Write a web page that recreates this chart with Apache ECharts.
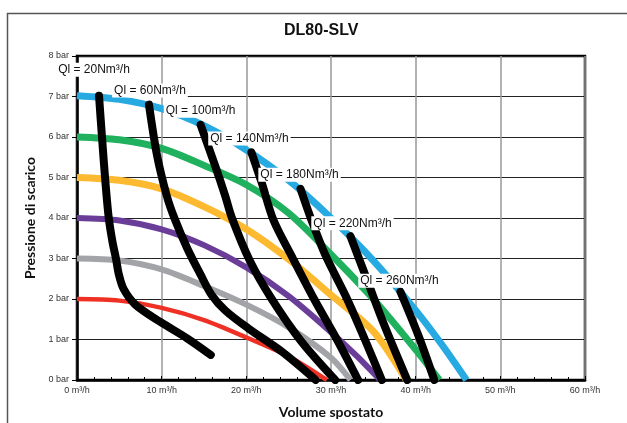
<!DOCTYPE html>
<html>
<head>
<meta charset="utf-8">
<script src="https://cdn.jsdelivr.net/npm/echarts@6/dist/echarts.min.js"></script>
<style>
  html, body { margin: 0; padding: 0; background: #fff; }
  #chart { width: 627px; height: 423px; }
</style>
</head>
<body>
<div id="chart"></div>
<script>
// curve pompa (portata m³/h, pressione bar)
var redCurve    = [[0,2.0],[5,1.96],[10,1.78],[15,1.48],[20,1.05],[25,0.58],[29.5,0]];
var greyCurve   = [[0,3.0],[5,2.95],[10,2.73],[15,2.32],[20,1.86],[25,1.3],[30,0.55],[32.3,0]];
var purpleCurve = [[0,4.0],[5,3.94],[10,3.72],[15,3.33],[20,2.78],[25,2.07],[30,1.18],[33,0.6],[35.8,0]];
var yellowCurve = [[0,5.0],[5,4.93],[10,4.72],[15,4.28],[20,3.72],[25,2.98],[30,2.1],[35,1.2],[38.9,0]];
var greenCurve  = [[0,6.0],[5,5.93],[10,5.72],[15,5.3],[20,4.82],[25,4.12],[30,3.1],[35,2.0],[40,0.75],[42.8,0]];
var blueCurve   = [[0,7.02],[5,6.93],[10,6.7],[15,6.28],[20,5.68],[25,4.93],[30,4.0],[35,2.95],[40,1.72],[43,0.9],[46,0]];

// consumo aria
var ql20  = [[2.6,7.02],[2.95,6.0],[3.35,4.9],[3.75,4.0],[4.2,3.4],[4.6,3.0],[4.95,2.6],[5.5,2.25],[6.9,1.86],[9.8,1.44],[13,1.03],[15.8,0.62]];
var ql60  = [[8.5,6.8],[9.45,5.55],[10.6,4.55],[11.5,4.0],[13,3.26],[14.6,2.6],[15.9,2.1],[17.5,1.72],[20.2,1.28],[24.2,0.7],[28.2,0]];
var ql100 = [[14.6,6.3],[16.3,5.3],[17.5,4.55],[18.3,4.0],[20.4,2.95],[23,2.0],[26.5,0.95],[30.5,0]];
var ql140 = [[20.6,5.62],[21.8,4.88],[23.2,3.95],[25.5,3.0],[28,2.0],[30.7,1.0],[33.2,0]];
var ql180 = [[26.4,4.72],[27.6,4.0],[29.3,3.1],[31.9,2.0],[34,1.0],[36,0]];
var ql220 = [[32.3,3.55],[34.3,2.45],[36.3,1.35],[39,0]];
var ql260 = [[38.2,2.18],[40.3,1.11],[42.2,0]];

var qlNames = ['Ql = 20Nm³/h','Ql = 60Nm³/h','Ql = 100m³/h','Ql = 140Nm³/h','Ql = 180Nm³/h','Ql = 220Nm³/h','Ql = 260Nm³/h'];

var xTicks = [0,10,20,30,40,50,60];
var yTicks = [0,1,2,3,4,5,6,7,8];

var pumpCurves = [
  { data: redCurve,    color: '#ee3124', width: 4.5 },
  { data: greyCurve,   color: '#a2a4a7', width: 6 },
  { data: purpleCurve, color: '#6a3e98', width: 6 },
  { data: yellowCurve, color: '#fdb92f', width: 7 },
  { data: greenCurve,  color: '#20b15f', width: 7 },
  { data: blueCurve,   color: '#27aae1', width: 7 }
];
var airCurves = [ql20, ql60, ql100, ql140, ql180, ql220, ql260];
// spostamento etichette rispetto al primo punto
var labelOffsets = [[-5,-26],[1,-14],[0,-14],[-2,-14],[-1,-14],[2,-13],[-1,-11]];

var series = [];
pumpCurves.forEach(function (c) {
  series.push({
    type: 'line',
    data: c.data,
    smooth: 0.3,
    showSymbol: false,
    silent: true,
    z: 2,
    lineStyle: { color: c.color, width: c.width, cap: 'butt' }
  });
});
airCurves.forEach(function (d, i) {
  series.push({
    type: 'line',
    data: d,
    smooth: 0.3,
    showSymbol: false,
    silent: true,
    z: 3,
    lineStyle: { color: '#000', width: 8, cap: 'round', join: 'round' },
    markPoint: {
      symbol: 'rect',
      symbolSize: 0,
      silent: true,
      z: 6,
      data: [{
        coord: d[0],
        label: {
          show: true,
          position: 'inside',
          offset: labelOffsets[i],
          formatter: qlNames[i],
          color: '#111',
          fontSize: 12,
          fontFamily: 'Liberation Sans, Arial, sans-serif',
          backgroundColor: '#fff',
          padding: [1, 2]
        }
      }]
    }
  });
});

var chart = echarts.init(document.getElementById('chart'), null, { renderer: 'canvas' });
chart.setOption({
  animation: false,
  backgroundColor: '#fff',
  title: {
    text: 'DL80-SLV',
    left: 279,
    top: 18,
    textStyle: { fontSize: 16, fontWeight: 'bold', color: '#111', fontFamily: 'Liberation Sans, Arial, sans-serif' }
  },
  graphic: [{
    type: 'rect',
    left: 5, top: 11,
    shape: { width: 700, height: 460 },
    style: { fill: 'none', stroke: '#555', lineWidth: 1.5 },
    silent: true
  }],
  grid: {
    left: 77, right: 42, top: 56, bottom: 43,
    outerBoundsMode: 'none',
    show: true,
    borderColor: '#000',
    borderWidth: 2.5,
    backgroundColor: 'transparent'
  },
  xAxis: {
    type: 'value',
    min: xTicks[0],
    max: xTicks[xTicks.length - 1],
    interval: 10,
    name: 'Volume spostato',
    nameLocation: 'middle',
    nameGap: 25,
    nameTextStyle: { fontSize: 14, fontWeight: 'bold', color: '#111', fontFamily: 'Lato, Open Sans, sans-serif' },
    axisLine: { lineStyle: { color: '#000', width: 2.5 } },
    axisTick: { show: true, inside: true, length: 4, lineStyle: { color: '#000' } },
    minorTick: { show: true, splitNumber: 5, length: 3, lineStyle: { color: '#000' } },
    axisLabel: {
      formatter: '{value} m³/h',
      fontSize: 9,
      color: '#333',
      margin: 6,
      fontFamily: 'Liberation Sans, Arial, sans-serif'
    },
    splitLine: { show: true, lineStyle: { color: '#999', width: 1.5 } }
  },
  yAxis: {
    type: 'value',
    min: yTicks[0],
    max: yTicks[yTicks.length - 1],
    interval: 1,
    name: 'Pressione di scarico',
    nameLocation: 'middle',
    nameGap: 40,
    nameTextStyle: { fontSize: 14, fontWeight: 'bold', color: '#111', fontFamily: 'Lato, Open Sans, sans-serif' },
    axisLine: { show: true, lineStyle: { color: '#000', width: 2.5 } },
    axisTick: { show: true, length: 5, lineStyle: { color: '#000' } },
    axisLabel: {
      formatter: '{value} bar',
      fontSize: 9,
      color: '#333',
      margin: 8,
      fontFamily: 'Liberation Sans, Arial, sans-serif'
    },
    splitLine: { show: true, lineStyle: { color: '#222', width: 1.2 } }
  },
  series: series
});
</script>
</body>
</html>
